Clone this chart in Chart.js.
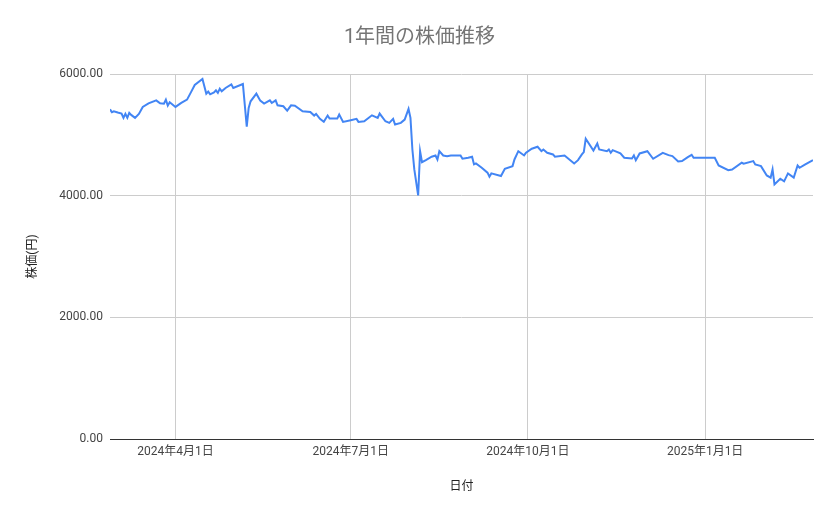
<!DOCTYPE html>
<html>
<head>
<meta charset="utf-8">
<script src="https://cdn.jsdelivr.net/npm/chart.js@4/dist/chart.umd.min.js"></script>
<style>
  body { margin: 0; background: #fff; }
  #chart { display: block; }
</style>
</head>
<body>
<canvas id="chart" width="839" height="519"></canvas>
<script>
// --- data ---
const dates = [
  '2024-02-27','2024-02-28','2024-02-29','2024-03-02','2024-03-04','2024-03-05','2024-03-06','2024-03-07',
  '2024-03-08','2024-03-09','2024-03-11','2024-03-13','2024-03-15','2024-03-18','2024-03-22','2024-03-24',
  '2024-03-26','2024-03-27','2024-03-28','2024-03-29','2024-04-01','2024-04-04','2024-04-07','2024-04-09',
  '2024-04-11','2024-04-15','2024-04-17','2024-04-18','2024-04-19','2024-04-21','2024-04-22','2024-04-23',
  '2024-04-24','2024-04-25','2024-04-27','2024-04-30','2024-05-01','2024-05-06','2024-05-08','2024-05-09',
  '2024-05-10','2024-05-13','2024-05-15','2024-05-17','2024-05-20','2024-05-21','2024-05-23','2024-05-24',
  '2024-05-27','2024-05-29','2024-05-31','2024-06-02','2024-06-06','2024-06-10','2024-06-12','2024-06-13',
  '2024-06-15','2024-06-17','2024-06-19','2024-06-20','2024-06-24','2024-06-25','2024-06-27','2024-07-01',
  '2024-07-04','2024-07-05','2024-07-08','2024-07-12','2024-07-15','2024-07-16','2024-07-19','2024-07-21',
  '2024-07-23','2024-07-24','2024-07-27','2024-07-29','2024-07-31','2024-08-01','2024-08-02','2024-08-03',
  '2024-08-05','2024-08-06','2024-08-07','2024-08-09','2024-08-12','2024-08-14','2024-08-15','2024-08-16',
  '2024-08-18','2024-08-20','2024-08-22','2024-08-27','2024-08-28','2024-08-31','2024-09-02','2024-09-03',
  '2024-09-04','2024-09-07','2024-09-10','2024-09-11','2024-09-12','2024-09-17','2024-09-19','2024-09-23',
  '2024-09-24','2024-09-26','2024-09-29','2024-09-30','2024-10-03','2024-10-06','2024-10-08','2024-10-09',
  '2024-10-11','2024-10-14','2024-10-15','2024-10-20','2024-10-25','2024-10-27','2024-10-29','2024-10-30',
  '2024-10-31','2024-11-04','2024-11-06','2024-11-07','2024-11-11','2024-11-12','2024-11-13','2024-11-14',
  '2024-11-18','2024-11-20','2024-11-24','2024-11-25','2024-11-26','2024-11-28','2024-12-02','2024-12-05',
  '2024-12-10','2024-12-13','2024-12-15','2024-12-18','2024-12-20','2024-12-23','2024-12-25','2024-12-26',
  '2024-12-31','2025-01-06','2025-01-08','2025-01-13','2025-01-15','2025-01-20','2025-01-21','2025-01-26',
  '2025-01-27','2025-01-30','2025-02-02','2025-02-04','2025-02-05','2025-02-06','2025-02-09','2025-02-11',
  '2025-02-13','2025-02-16','2025-02-18','2025-02-19','2025-02-22','2025-02-26'
];
const prices = [
  5420, 5371, 5387, 5366, 5350, 5279, 5344, 5279,
  5361, 5328, 5279, 5344, 5459, 5518, 5567, 5518,
  5513, 5579, 5480, 5535, 5459, 5524, 5579, 5698,
  5820, 5918, 5677, 5710, 5666, 5698, 5731, 5689,
  5759, 5715, 5771, 5830, 5771, 5836, 5136, 5443,
  5551, 5677, 5562, 5513, 5567, 5524, 5567, 5485,
  5469, 5398, 5485, 5480, 5387, 5377, 5317, 5344,
  5262, 5213, 5317, 5267, 5267, 5333, 5213, 5240,
  5262, 5213, 5223, 5321, 5279, 5350, 5223, 5197,
  5262, 5169, 5197, 5251, 5426, 5279, 4759, 4431,
  4005, 4731, 4551, 4584, 4640, 4661, 4595, 4731,
  4661, 4650, 4661, 4661, 4607, 4623, 4640, 4514,
  4530, 4459, 4378, 4312, 4366, 4322, 4443, 4486,
  4595, 4731, 4661, 4705, 4771, 4804, 4731, 4759,
  4705, 4678, 4640, 4661, 4530, 4584, 4678, 4716,
  4935, 4743, 4858, 4759, 4731, 4759, 4705, 4748,
  4694, 4623, 4612, 4661, 4584, 4694, 4731, 4607,
  4705, 4667, 4650, 4563, 4568, 4634, 4672, 4623,
  4623, 4623, 4497, 4420, 4431, 4541, 4525, 4568,
  4514, 4486, 4333, 4296, 4431, 4186, 4279, 4235,
  4366, 4296, 4497, 4459, 4514, 4584
];

const axisStart = '2024-02-27';
const axisEnd = '2025-02-26';
const tickDates = ['2024-04-01', '2024-07-01', '2024-10-01', '2025-01-01'];
const tickLabels = ['2024年4月1日', '2024年7月1日', '2024年10月1日', '2025年1月1日'];
const yTicks = [0, 2000, 4000, 6000];

// days since axis start
function dayIndex(s) {
  const [y, m, d] = s.split('-').map(Number);
  const [y0, m0, d0] = axisStart.split('-').map(Number);
  return Math.round((Date.UTC(y, m - 1, d) - Date.UTC(y0, m0 - 1, d0)) / 86400000);
}

const points = dates.map((d, i) => ({ x: dayIndex(d), y: prices[i] }));
const tickPos = tickDates.map(dayIndex);

const FONT = "Roboto, 'Noto Sans CJK JP', sans-serif";

new Chart(document.getElementById('chart'), {
  type: 'line',
  data: {
    datasets: [{
      label: '株価',
      data: points,
      borderColor: '#4285f4',
      borderWidth: 2,
      pointRadius: 0,
      tension: 0,
      fill: false
    }]
  },
  options: {
    responsive: false,
    animation: false,
    devicePixelRatio: 1,
    layout: { padding: 0 },
    plugins: {
      legend: { display: false },
      tooltip: { enabled: false },
      title: {
        display: true,
        text: '1年間の株価推移',
        color: '#757575',
        font: { family: FONT, size: 20, weight: 'normal' },
        padding: { top: 26, bottom: 24 }
      }
    },
    scales: {
      x: {
        type: 'linear',
        min: dayIndex(axisStart),
        max: dayIndex(axisEnd),
        afterBuildTicks: (scale) => { scale.ticks = tickPos.map(v => ({ value: v })); },
        afterFit: (scale) => { scale.height = 80; },
        grid: { color: '#cccccc', drawTicks: false },
        border: { display: true, color: '#333333', width: 1 },
        ticks: {
          autoSkip: false,
          maxRotation: 0,
          padding: 6,
          color: '#444444',
          font: { family: FONT, size: 12 },
          callback: (v) => tickLabels[tickPos.indexOf(v)]
        },
        title: {
          display: true,
          text: '日付',
          color: '#222222',
          font: { family: FONT, size: 12 },
          padding: { top: 0, bottom: 25 }
        }
      },
      y: {
        min: 0,
        max: 6000,
        afterBuildTicks: (scale) => { scale.ticks = yTicks.map(v => ({ value: v })); },
        afterFit: (scale) => { scale.width = 110; },
        grid: {
          color: (c) => (c.tick && c.tick.value === 0 ? '#333333' : '#cccccc'),
          drawTicks: false
        },
        border: { display: false },
        ticks: {
          padding: 7,
          color: '#444444',
          font: { family: FONT, size: 12 },
          callback: (v) => v.toFixed(2)
        },
        title: {
          display: true,
          text: '株価(円)',
          color: '#222222',
          font: { family: FONT, size: 12 },
          padding: { top: 26, bottom: 0 }
        }
      },
      // empty right margin so the title stays centred on the whole canvas
      yRight: {
        position: 'right',
        display: true,
        grid: { display: false, drawTicks: false },
        border: { display: false },
        ticks: { display: false },
        afterFit: (scale) => { scale.width = 26; }
      }
    }
  }
});
</script>
</body>
</html>
